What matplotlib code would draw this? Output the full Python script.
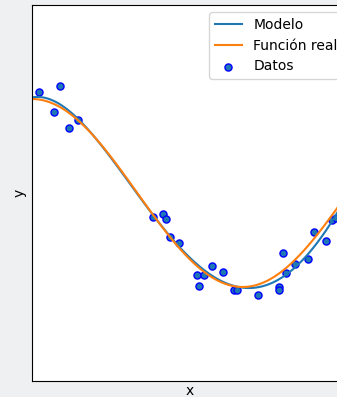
import numpy as np
import matplotlib
matplotlib.use("Agg")
import matplotlib.pyplot as plt

# Datos
x_datos = np.array([0.023, 0.089, 0.071, 0.145, 0.118,
                    0.384, 0.416, 0.424, 0.437, 0.465,
                    0.523, 0.544, 0.569, 0.603, 0.529,
                    0.639, 0.648, 0.715, 0.783, 0.783,
                    0.793, 0.803, 0.832, 0.872, 0.893,
                    0.930, 0.948, 0.961])
y_datos = np.array([1.078, 1.138, 0.859, 0.773, 0.695,
                    -0.259, -0.223, -0.277, -0.465, -0.535,
                    -0.872, -0.872, -0.773, -0.837, -0.993,
                    -1.032, -1.032, -1.082, -1.003, -1.037,
                    -0.635, -0.854, -0.755, -0.702, -0.418,
                    -0.507, -0.287, -0.269])
grado = 4

def funcion_real(x):
    return np.cos(1.5 * np.pi * x)

orden = np.argsort(x_datos)
x_datos, y_datos = x_datos[orden], y_datos[orden]
coef = np.polyfit(x_datos, y_datos, grado)
x_test = np.linspace(0, 1, 100)

fig = plt.figure(figsize=(3.37, 3.97), dpi=100)
fig.patch.set_facecolor('#eff0f2')
ax = fig.add_axes([32/337, 1 - 381/397, 316/337, 376/397])

ax.plot(x_test, np.polyval(coef, x_test), label="Modelo")
ax.plot(x_test, funcion_real(x_test), label="Función real")
ax.scatter(x_datos, y_datos, edgecolor='b', s=26, label="Datos")
ax.set_xlabel("x")
ax.xaxis.set_label_coords(0.5, -0.007, transform=ax.transAxes)
ax.xaxis.label.set_va('top')
ax.set_ylabel("y", labelpad=4)
ax.set_xlim((0, 1))
ax.set_ylim((-2, 2))
ax.set_xticks(())
ax.set_yticks(())
# la leyenda sobresale por la derecha, como en la captura
ax.legend(loc="upper left", bbox_to_anchor=(209/337, 1 - 12/397),
          bbox_transform=fig.transFigure, borderaxespad=0)

fig.savefig("out.png", dpi=100, facecolor=fig.get_facecolor())
